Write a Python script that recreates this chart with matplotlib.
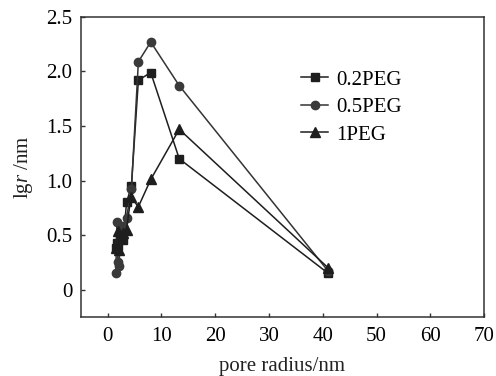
import matplotlib
matplotlib.use("Agg")
import matplotlib.pyplot as plt

plt.rcParams['font.family'] = ['Liberation Serif', 'DejaVu Serif']
plt.rcParams['mathtext.fontset'] = 'custom'
plt.rcParams['mathtext.rm'] = 'Liberation Serif'
plt.rcParams['mathtext.it'] = 'Liberation Serif:italic'

x_02 = [1.6, 1.8, 2.0, 2.2, 2.5, 2.9, 3.5, 4.4, 5.7, 8.0, 13.3, 41.0]
y_02 = [0.38, 0.43, 0.40, 0.50, 0.47, 0.46, 0.80, 0.95, 1.92, 1.99, 1.20, 0.15]
x_05 = [1.5, 1.7, 1.9, 2.1, 2.4, 2.8, 3.5, 4.4, 5.7, 8.0, 13.3, 41.0]
y_05 = [0.15, 0.62, 0.25, 0.22, 0.52, 0.58, 0.66, 0.92, 2.09, 2.27, 1.87, 0.17]
x_1 = [1.6, 1.9, 2.1, 2.4, 2.8, 3.5, 4.3, 5.7, 8.0, 13.3, 41.0]
y_1 = [0.38, 0.54, 0.36, 0.47, 0.52, 0.55, 0.85, 0.76, 1.01, 1.47, 0.20]

xticks = [0, 10, 20, 30, 40, 50, 60, 70]
yticks = [0, 0.5, 1.0, 1.5, 2.0, 2.5]
yticklabels = ['0', '0.5', '1.0', '1.5', '2.0', '2.5']

fig = plt.figure(figsize=(4.96, 3.76), dpi=100)
ax = fig.add_axes([0.163, 0.157, 0.813, 0.798])

c = '#1e1e1e'
ax.plot(x_02, y_02, marker='s', color=c, lw=1.1, ms=5.5, label='0.2PEG')
ax.plot(x_05, y_05, marker='o', color='#333333', mfc='#3a3a3a', mec='#3a3a3a', lw=1.1, ms=6, label='0.5PEG')
ax.plot(x_1, y_1, marker='^', color=c, lw=1.1, ms=6.5, label='1PEG')

ax.set_xlim(-5, 70)
ax.set_ylim(-0.25, 2.5)
ax.set_xticks(xticks)
ax.set_yticks(yticks)
ax.set_yticklabels(yticklabels)
ax.tick_params(direction='in', length=3, width=1, labelsize=15, color='#333333')
ax.tick_params(axis='x', pad=7)
ax.tick_params(axis='y', pad=6)
for s in ax.spines.values():
    s.set_color('#333333')
    s.set_linewidth(1.1)

ax.set_xlabel('pore radius/nm', fontsize=15, labelpad=8, color='#222222')
ax.set_ylabel('lg$\\mathit{r}$ /nm', fontsize=15, labelpad=8, color='#222222')

leg = ax.legend(loc='upper left', bbox_to_anchor=(0.5, 0.885), frameon=False,
                fontsize=15, handlelength=1.3, handletextpad=0.4, labelspacing=0.38)

fig.savefig('out.png', dpi=100)
